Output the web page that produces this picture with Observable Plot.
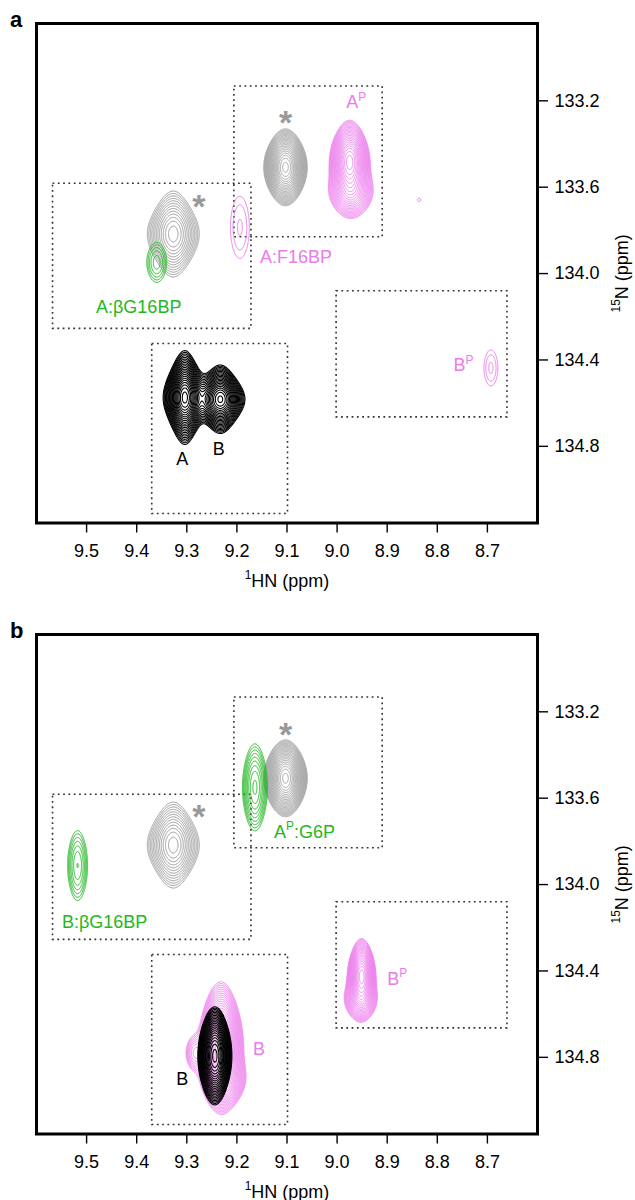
<!DOCTYPE html>
<html>
<head>
<meta charset="utf-8">
<script src="https://cdn.jsdelivr.net/npm/d3@7"></script>
<script src="https://cdn.jsdelivr.net/npm/@observablehq/plot@0.6"></script>
<style>
  html, body { margin: 0; padding: 0; background: #fff; overflow: hidden; }
  .panel { position: relative; width: 635px; }
  .panel svg { display: block; }
  .tag { position: absolute; left: 10px; top: 9px; font: bold 22px/22px "Liberation Sans", Arial, sans-serif; color: #000; }
</style>
</head>
<body>
<div id="panelA" class="panel"><div class="tag">a</div></div>
<div id="panelB" class="panel"><div class="tag">b</div></div>
<script>
// ---------- axes ----------
const xTicks = [9.5, 9.4, 9.3, 9.2, 9.1, 9.0, 8.9, 8.8, 8.7];
const yTicks = [133.2, 133.6, 134.0, 134.4, 134.8];
const xDomain = [9.6, 8.6];
const yDomain = [135.155, 132.842];
const xLabel = "{1}HN (ppm)";
const yLabel = "{15}N (ppm)";

// ---------- dotted boxes (ppm), identical in both panels ----------
const boxes = [
  {x1: 9.567, x2: 9.171, y1: 133.584, y2: 134.256},
  {x1: 9.205, x2: 8.909, y1: 133.134, y2: 133.832},
  {x1: 9.369, x2: 9.098, y1: 134.326, y2: 135.113},
  {x1: 9.001, x2: 8.660, y1: 134.082, y2: 134.666}
];

// ---------- contour levels (relative intensity) ----------
const sparseLevels = [0.1, 0.12, 0.144, 0.1728, 0.2074, 0.2488, 0.2986, 0.3583, 0.43, 0.516, 0.6192, 0.743, 0.8916];
const denseLevels = [0.05, 0.0575, 0.0661, 0.076, 0.0875, 0.1006, 0.1157, 0.133, 0.153, 0.1759, 0.2023,
                     0.2327, 0.2676, 0.3077, 0.3539, 0.407, 0.468, 0.5382, 0.6189, 0.7118, 0.8185, 0.9413];

// peaks: centre (ppm), half-extent of the outermost contour (hx, hy, ppm), relative intensity
// groups: peaks contoured together; "shape" = line-shape tail parameter (small = diamond, large = ellipse)

// ---------- panel a ----------
const groupsA = [
  {group: "grey1", spec: "grey", levels: "sparse", shape: 3},
  {group: "grey2", spec: "grey", levels: "dense", shape: 8},
  {group: "greenA", spec: "green", levels: "sparse", shape: 6},
  {group: "pinkF", spec: "pink", levels: "sparse", shape: 6},
  {group: "pinkAP", spec: "pink", levels: "dense", shape: 8},
  {group: "pinkBP", spec: "pink", levels: "sparse", shape: 6},
  {group: "pinkDot", spec: "pink", levels: "sparse", shape: 6},
  {group: "blackAB", spec: "black", levels: "dense", shape: 3}
];
const peaksA = [
  {group: "grey1", x: 9.327, y: 133.817, hx: 0.0518, hy: 0.199, amp: 1},
  {group: "grey2", x: 9.103, y: 133.508, hx: 0.0435, hy: 0.178, amp: 1},
  {group: "greenA", x: 9.360, y: 133.948, hx: 0.0199, hy: 0.0927, amp: 0.23},
  {group: "pinkF", x: 9.194, y: 133.786, hx: 0.0189, hy: 0.1437, amp: 0.148},
  {group: "pinkAP", x: 8.975, y: 133.48, hx: 0.040, hy: 0.19, amp: 1},
  {group: "pinkAP", x: 8.972, y: 133.62, hx: 0.043, hy: 0.12, amp: 0.3},
  {group: "pinkBP", x: 8.693, y: 134.437, hx: 0.0139, hy: 0.0834, amp: 0.15},
  {group: "pinkDot", x: 8.836, y: 133.659, hx: 0.003, hy: 0.008, amp: 0.105},
  {group: "blackAB", x: 9.304, y: 134.574, hx: 0.043, hy: 0.217, amp: 1},
  {group: "blackAB", x: 9.233, y: 134.582, hx: 0.049, hy: 0.158, amp: 0.85}
];
const labelsA = [
  {spec: "grey", text: "*", x: 9.103, y: 133.302},
  {spec: "grey", text: "*", x: 9.276, y: 133.693},
  {spec: "pink", text: "A{P}", x: 8.962, y: 133.208},
  {spec: "green", text: "A:βG16BP", x: 9.396, y: 134.157},
  {spec: "pink", text: "A:F16BP", x: 9.082, y: 133.924},
  {spec: "black", text: "A", x: 9.309, y: 134.858},
  {spec: "black", text: "B", x: 9.236, y: 134.812},
  {spec: "pink", text: "B{P}", x: 8.748, y: 134.426}
];

// ---------- panel b ----------
const groupsB = [
  {group: "grey1", spec: "grey", levels: "sparse", shape: 3},
  {group: "grey2", spec: "grey", levels: "dense", shape: 8},
  {group: "greenB", spec: "green", levels: "sparse", shape: 6},
  {group: "greenAP", spec: "green", levels: "sparse", shape: 6},
  {group: "pinkB", spec: "pink", levels: "dense", shape: 8},
  {group: "pinkBP", spec: "pink", levels: "dense", shape: 8},
  {group: "blackB", spec: "black", levels: "dense", shape: 8}
];
const peaksB = [
  {group: "grey1", x: 9.327, y: 133.817, hx: 0.0518, hy: 0.199, amp: 1},
  {group: "grey2", x: 9.103, y: 133.508, hx: 0.0435, hy: 0.178, amp: 1},
  {group: "greenB", x: 9.518, y: 133.912, hx: 0.0199, hy: 0.162, amp: 0.3},
  {group: "greenAP", x: 9.164, y: 133.550, hx: 0.0249, hy: 0.2016, amp: 0.45},
  {group: "pinkB", x: 9.232, y: 134.75, hx: 0.045, hy: 0.30, amp: 1},
  {group: "pinkB", x: 9.225, y: 134.90, hx: 0.040, hy: 0.12, amp: 0.35},
  {group: "pinkB", x: 9.285, y: 134.78, hx: 0.016, hy: 0.07, amp: 0.12},
  {group: "pinkBP", x: 8.951, y: 134.42, hx: 0.028, hy: 0.17, amp: 1},
  {group: "pinkBP", x: 8.953, y: 134.53, hx: 0.032, hy: 0.10, amp: 0.3},
  {group: "blackB", x: 9.244, y: 134.793, hx: 0.034, hy: 0.227, amp: 1}
];
const labelsB = [
  {spec: "grey", text: "*", x: 9.276, y: 133.688},
  {spec: "grey", text: "*", x: 9.103, y: 133.306},
  {spec: "green", text: "B:βG16BP", x: 9.464, y: 134.175},
  {spec: "green", text: "A{P}:G6P", x: 9.065, y: 133.758},
  {spec: "pink", text: "B", x: 9.156, y: 134.761},
  {spec: "black", text: "B", x: 9.309, y: 134.900},
  {spec: "pink", text: "B{P}", x: 8.880, y: 134.437}
];

// ---------- styles ----------
const colors = {grey: "#999999", black: "#000000", pink: "#ec7aec", green: "#22b822"};
const levelSets = {sparse: sparseLevels, dense: denseLevels};
const lineWidths = {sparse: 1, dense: 0.9};
const blackWidth = 1.1;
const FONT = '"Liberation Sans", Arial, Helvetica, sans-serif';

// width parameter so that the outermost contour reaches the read half-extent
function widthFor(h, amp, c0, p) {
  const r = Math.min(0.999, c0 / amp);
  return h / Math.sqrt(p * (Math.pow(r, -1 / p) - 1));
}

function peakValue(ps, p) {
  return (x, y) => {
    let s = 0;
    for (const k of ps) {
      const u = (x - k.x) / k.wx, v = (y - k.y) / k.wy;
      s += k.amp * Math.pow((1 + u * u / p) * (1 + v * v / p), -p);
    }
    return s;
  };
}

function contourMarks(peaks, groups) {
  return groups.map(g => {
    const levels = levelSets[g.levels];
    const ps = peaks.filter(k => k.group === g.group).map(k => ({
      ...k,
      wx: widthFor(k.hx, k.amp, levels[0], g.shape),
      wy: widthFor(k.hy, k.amp, levels[0], g.shape)
    }));
    const x1 = Math.min(9.6, d3.max(ps, k => k.x + 2.5 * k.hx));
    const x2 = Math.max(8.6, d3.min(ps, k => k.x - 2.5 * k.hx));
    const y1 = Math.max(132.842, d3.min(ps, k => k.y - 2.5 * k.hy));
    const y2 = Math.min(135.155, d3.max(ps, k => k.y + 2.5 * k.hy));
    return Plot.contour({
      x1, x2, y1, y2,
      value: peakValue(ps, g.shape),
      thresholds: levels,
      fill: "none",
      stroke: colors[g.spec],
      strokeWidth: g.spec === "black" ? blackWidth : lineWidths[g.levels],
      pixelSize: 0.5
    });
  });
}

function supify(svg) {
  const NS = "http://www.w3.org/2000/svg";
  svg.querySelectorAll("text").forEach(t => {
    const s = t.textContent;
    if (!s.includes("{")) return;
    const fs = parseFloat(getComputedStyle(t).fontSize) || 18;
    const up = fs * 0.42;
    const parts = s.split(/(\{[^}]*\})/).filter(d => d);
    while (t.firstChild) t.removeChild(t.firstChild);
    let shifted = false;
    for (const p of parts) {
      const ts = document.createElementNS(NS, "tspan");
      if (p.startsWith("{")) {
        ts.textContent = p.slice(1, -1);
        ts.setAttribute("font-size", (fs * 0.66).toFixed(1));
        ts.setAttribute("dy", (-up).toFixed(1));
        shifted = true;
      } else {
        ts.textContent = p;
        if (shifted) { ts.setAttribute("dy", up.toFixed(1)); shifted = false; }
      }
      t.appendChild(ts);
    }
  });
}

function panel(peaks, groups, labels, height) {
  return Plot.plot({
    width: 635,
    height,
    marginLeft: 36,
    marginRight: 98,
    marginTop: 23,
    marginBottom: height - 522.5,
    style: {fontFamily: FONT, fontSize: "18px", background: "white", overflow: "visible", color: "black"},
    x: {domain: xDomain},
    y: {domain: yDomain},
    color: {type: "identity"},
    marks: [
      Plot.rect(boxes, {x1: "x1", x2: "x2", y1: "y1", y2: "y2", fill: "none", stroke: "#333", strokeWidth: 1.6, strokeDasharray: "1.8,3.5"}),
      ...contourMarks(peaks, groups),
      Plot.text(labels.filter(d => d.text !== "*"), {x: "x", y: "y", text: "text", fill: d => colors[d.spec], fontSize: 18}),
      Plot.text(labels.filter(d => d.text === "*"), {x: "x", y: "y", text: "text", fill: d => colors[d.spec], fontSize: 34, fontWeight: "bold"}),
      Plot.frame({stroke: "#000", strokeWidth: 3}),
      Plot.axisX({ticks: xTicks, tickSize: 10, tickPadding: 11, strokeWidth: 1.4, tickFormat: d => d.toFixed(1),
                  label: xLabel, labelAnchor: "center", labelOffset: 64, labelArrow: "none"}),
      Plot.axisY({anchor: "right", ticks: yTicks, tickSize: 10, tickPadding: 7, strokeWidth: 1.4, tickFormat: d => d.toFixed(1),
                  label: yLabel, labelAnchor: "center", labelOffset: 90, labelArrow: "none"})
    ]
  });
}

const svgA = panel(peaksA, groupsA, labelsA, 611);
document.getElementById("panelA").appendChild(svgA);
supify(svgA);
const svgB = panel(peaksB, groupsB, labelsB, 589);
document.getElementById("panelB").appendChild(svgB);
supify(svgB);
</script>
</body>
</html>
